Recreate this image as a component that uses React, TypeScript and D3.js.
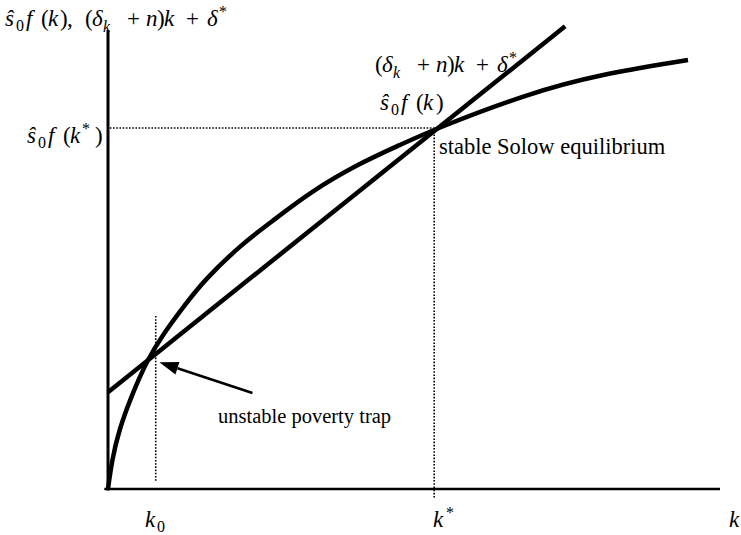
import React from "react";
import * as d3 from "d3";

// Savings curve ŝ0·f(k), sampled along k
const curveK = [0, 0.065, 0.18, 0.376, 0.637, 0.915, 1.193, 1.569, 2.206, 2.647, 3.301, 4.118, 4.771, 5.376, 6.895, 7.99, 9.477];
const curveY = [0, 0.632, 1.285, 2.004, 2.81, 3.399, 3.9, 4.553, 5.359, 5.795, 6.471, 7.102, 7.495, 7.865, 8.627, 9.02, 9.346];

// Break-even line (δk + n)k + δ*
const deltaStar = 2.11;
const slope = 1.067;
const lineK = [0, 7.47];

// Equilibria
const k0 = 0.78;
const kStar = 5.33;
const fkStar = 7.865;

const W = 741;
const H = 535;
const FONT = '"Liberation Serif", "Times New Roman", Times, serif';

type Part = { t: string; dx: number; dy?: number; it?: boolean; fs?: number };

// glyph-by-glyph math typesetting
function MathText({ x, y, fs, parts }: { x: number; y: number; fs: number; parts: Part[] }) {
  return (
    <text fontSize={fs} style={{ fontFamily: FONT }}>
      {parts.map((p, i) => (
        <tspan
          key={i}
          x={x + p.dx}
          y={y + (p.dy ?? 0)}
          fontStyle={p.it ? "italic" : "normal"}
          fontSize={p.fs ?? fs}
        >
          {p.t}
        </tspan>
      ))}
    </text>
  );
}

// ŝ0 f(k ...  prefix
const sfParts = (close: Part[]): Part[] => [
  { t: "ŝ", dx: 0, it: true },
  { t: "0", dx: 11, dy: 5, fs: 16 },
  { t: "f", dx: 21, it: true },
  { t: "(", dx: 36 },
  { t: "k", dx: 43, it: true },
  ...close,
];

// (δk + n)k + δ*
const lineParts = (o: number): Part[] => [
  { t: "(", dx: o },
  { t: "δ", dx: o + 7, it: true },
  { t: "k", dx: o + 18, dy: 6, it: true, fs: 16 },
  { t: "+", dx: o + 42 },
  { t: "n", dx: o + 61, it: true },
  { t: ")", dx: o + 72 },
  { t: "k", dx: o + 79, it: true },
  { t: "+", dx: o + 101 },
  { t: "δ", dx: o + 122, it: true },
  { t: "*", dx: o + 134, dy: -9, fs: 16 },
];

export default function App() {
  const x = d3.scaleLinear().domain([0, 10]).range([108, 720]);
  const y = d3.scaleLinear().domain([0, 10]).range([489, 30]);

  const curvePts: [number, number][] = curveK.map((k, i) => [k, curveY[i]]);
  const curvePath = d3
    .line<[number, number]>()
    .x((d) => x(d[0]))
    .y((d) => y(d[1]))
    .curve(d3.curveBasis)(curvePts);

  const linePts: [number, number][] = lineK.map((k) => [k, deltaStar + slope * k]);
  const linePath = d3
    .line<[number, number]>()
    .x((d) => x(d[0]))
    .y((d) => y(d[1]))(linePts);

  // arrow pointing at the poverty trap
  const tail: [number, number] = [x(2.36), y(2.09)];
  const tip: [number, number] = [x(0.84), y(2.76)];
  const ang = Math.atan2(tip[1] - tail[1], tip[0] - tail[0]);
  const headLen = 19;
  const headHalf = 6.5;
  const base: [number, number] = [tip[0] - headLen * Math.cos(ang), tip[1] - headLen * Math.sin(ang)];
  const head = [
    tip,
    [base[0] + headHalf * Math.sin(ang), base[1] - headHalf * Math.cos(ang)],
    [base[0] - headHalf * Math.sin(ang), base[1] + headHalf * Math.cos(ang)],
  ]
    .map((p) => p.join(","))
    .join(" ");

  const dot = { stroke: "#000", strokeWidth: 1.6, strokeDasharray: "1.6,1.6", fill: "none" };

  const titleParts: Part[] = [
    ...sfParts([
      { t: ")", dx: 55 },
      { t: ",", dx: 62 },
    ]),
    ...lineParts(80),
  ];

  return (
    <svg width={W} height={H} style={{ display: "block", position: "absolute", left: 0, top: 0, fontFamily: FONT }}>
      <rect width={W} height={H} fill="#fff" />

      {/* dotted guides */}
      <line x1={x(0.03)} x2={x(kStar)} y1={y(fkStar)} y2={y(fkStar)} {...dot} />
      <line x1={x(kStar)} x2={x(kStar)} y1={y(fkStar)} y2={y(-0.2)} {...dot} />
      <line x1={x(k0)} x2={x(k0)} y1={y(3.77)} y2={y(0.15)} {...dot} />

      {/* axes */}
      <line x1={x(0)} x2={x(0)} y1={y(10)} y2={y(0) + 1.5} stroke="#000" strokeWidth={3} />
      <line x1={x(-0.06)} x2={x(10)} y1={y(0)} y2={y(0)} stroke="#000" strokeWidth={2.6} />

      {/* curves */}
      <path d={linePath ?? ""} fill="none" stroke="#000" strokeWidth={4.5} />
      <path d={curvePath ?? ""} fill="none" stroke="#000" strokeWidth={4.5} />

      {/* arrow */}
      <line x1={tail[0]} y1={tail[1]} x2={base[0]} y2={base[1]} stroke="#000" strokeWidth={2.6} />
      <polygon points={head} fill="#000" />

      {/* axis title */}
      <MathText x={5} y={26} fs={23} parts={titleParts} />

      {/* level of ŝ0 f(k*) */}
      <MathText
        x={27}
        y={143}
        fs={23}
        parts={sfParts([
          { t: "*", dx: 55, dy: -9, fs: 16 },
          { t: ")", dx: 68 },
        ])}
      />

      {/* curve labels */}
      <MathText x={380} y={110} fs={23} parts={sfParts([{ t: ")", dx: 56 }])} />
      <MathText x={375} y={72} fs={23} parts={lineParts(0)} />

      <text x={439} y={154} fontSize={22.5} style={{ fontFamily: FONT }}>stable Solow equilibrium</text>
      <text x={218} y={423} fontSize={20.5} style={{ fontFamily: FONT }}>unstable poverty trap</text>

      {/* x-axis labels */}
      <MathText
        x={145}
        y={527}
        fs={23}
        parts={[
          { t: "k", dx: 0, it: true },
          { t: "0", dx: 12, dy: 5, fs: 16 },
        ]}
      />
      <MathText
        x={433}
        y={527}
        fs={23}
        parts={[
          { t: "k", dx: 0, it: true },
          { t: "*", dx: 13, dy: -9, fs: 16 },
        ]}
      />
      <MathText x={729} y={527} fs={23} parts={[{ t: "k", dx: 0, it: true }]} />
    </svg>
  );
}
